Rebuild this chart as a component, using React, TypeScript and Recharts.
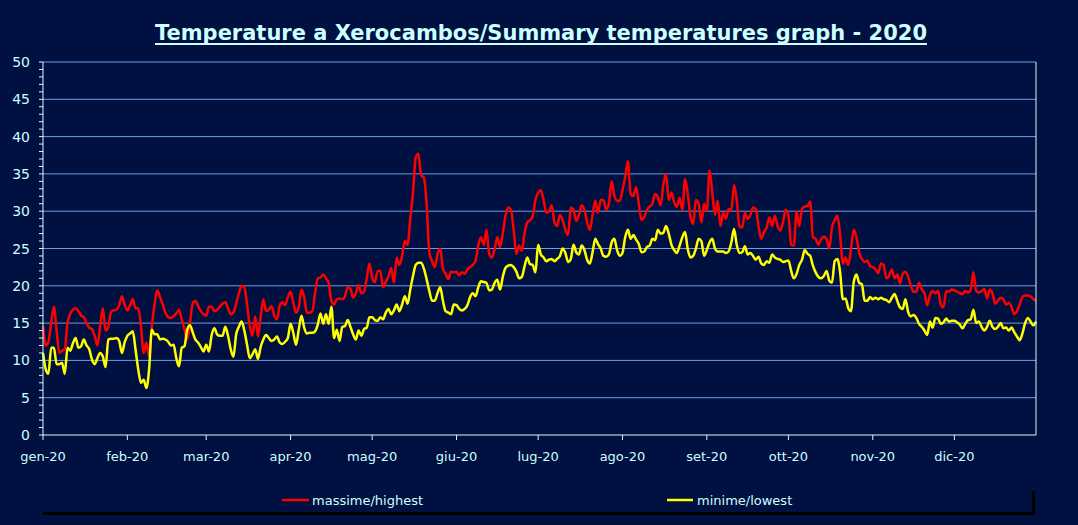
import React from "react";
import { CartesianGrid, Line, LineChart, XAxis, YAxis } from "recharts";

const BG = "#001040";
const INK = "#ccffff";
const GRID = "#6c9de6";

const monthStarts = [0, 31, 60, 91, 121, 152, 182, 213, 244, 274, 305, 335];
const monthLabels = ["gen-20", "feb-20", "mar-20", "apr-20", "mag-20", "giu-20", "lug-20", "ago-20", "set-20", "ott-20", "nov-20", "dic-20"];

// daily maxima, 1 Jan .. 31 Dec 2020
const maxTemps = [
  14.6, 12, 12.5, 15, 17.2, 14, 11, 11.3, 11.5, 15,
  16.2, 16.8, 17, 16.6, 16, 15.8, 15, 14.4, 14.2, 13.3,
  12, 14.5, 17, 14, 14.5, 16.5, 16.7, 16.8, 17.4, 18.6,
  17.5, 16.7, 17.4, 18.2, 17, 17, 14.6, 11, 12.4, 10.6,
  14.5, 17.5, 19.4, 18.5, 17.5, 16.4, 15.8, 15.7, 15.9, 16.3,
  16.8, 15.5, 14.2, 12.8, 15, 17.6, 18, 17.3, 16.6, 16.2,
  16, 17.2, 17.2, 16.6, 16.8, 17.2, 17.6, 17.8, 17, 16.2,
  16.4, 17.6, 19, 20, 19.8, 17.5, 14.6, 13.3, 15.9, 13.2,
  15.8, 18.2, 16.6, 16.8, 17.3, 16, 15.5, 17.4, 17.8, 17.4,
  18.5, 19.2, 17.8, 16.4, 17.1, 19.5, 18.5, 16.4, 16.4, 16.6,
  19, 21, 21.1, 21.5, 21, 20.4, 18, 17.5, 18.2, 18.3,
  18.2, 18.6, 19.8, 19.6, 18.4, 19, 20.1, 19, 19.2, 21,
  23, 21, 20.5, 22, 22, 19.8, 20.5, 21.3, 22.4, 20.4,
  23.8, 22.8, 24, 26, 25.5, 29, 32.5, 37.2, 37.7, 34.8,
  34.5, 31, 24.5, 23.3, 22.5, 24.2, 25, 22.3, 21.6, 20.9,
  21.9, 21.8, 21.9, 21.4, 21.8, 21.6, 22.2, 22.5, 22.8, 23.4,
  25.4, 26.5, 25.5, 27.5, 24.3, 23.8, 24.9, 26.5, 25.2, 27,
  29.4, 30.5, 30.2, 27.5, 24.3, 25.4, 24.7, 27, 28.5, 28.8,
  29.3, 31.5, 32.5, 32.8, 31.5, 29.8, 30, 30.8, 28.5, 28,
  29.5, 28.8, 27.5, 26.8, 30.5, 30.2, 28.7, 29.5, 30.8, 30.2,
  28.5, 27.5, 29.5, 31.4, 29.8, 31.5, 31.5, 30.2, 31, 34,
  32.1, 31.4, 31.4, 32.8, 34.6, 36.7, 32.3, 32, 33.2, 31,
  28.8, 29.2, 30.2, 30.6, 31, 32.3, 31.9, 30.8, 33.5, 35,
  31.5, 32.5, 31.2, 30.6, 31.8, 30.2, 34.3, 32.3, 29.3, 28.3,
  31.5, 31, 28.5, 31, 30, 35.5, 32.5, 29.5, 31.4, 28,
  29.8, 29, 30.3, 30.1, 33.5, 31.5, 28, 27.8, 29.8, 29,
  29.5, 30.5, 30.3, 28, 26.3, 27.2, 27.8, 29.2, 28, 29.4,
  28, 27.4, 28.5, 30.2, 29.4, 25.5, 25.4, 30, 28, 30.3,
  30.6, 30.7, 31.3, 26.5, 26.3, 25.5, 26.2, 26.6, 26.3, 25,
  27.8, 28.8, 29.4, 26.8, 23, 23.8, 22.8, 25, 27.5, 26.5,
  24.5, 23.6, 23.2, 23.4, 22.6, 22.5, 22.2, 21.7, 23, 22.8,
  21, 21.3, 22.2, 21, 21.5, 20.3, 21.6, 21.9, 21.2, 20,
  19.2, 19.2, 20.4, 19.5, 19, 17.4, 18.7, 19.3, 19, 19.3,
  17.5, 17.1, 19.3, 19.2, 19.5, 19.4, 19.2, 19, 18.9, 19.3,
  19.1, 19.5, 21.8, 19.3, 19.1, 19.3, 19.6, 18.3, 19.5, 19,
  17.6, 18, 18.4, 18.2, 17.5, 17.7, 17.2, 16.2, 16.6, 17.5,
  18.5, 18.7, 18.7, 18.6, 18.2, 18,
];

// daily minima
const minTemps = [
  11, 8.8, 8.2, 11.7, 11.7, 9.5, 9.5, 9.7, 8.2, 11.7,
  11.3, 12.3, 13, 11.7, 11.9, 12.8, 12, 11.5, 10.1, 9.5,
  10.3, 11, 10.5, 9.1, 12.8, 12.9, 12.9, 13, 12.6, 11,
  12.4, 13.3, 13.6, 13.9, 11.5, 8.8, 7, 7.4, 6.3, 8.8,
  14.1, 13.5, 13.5, 12.8, 12.9, 12.8, 12.5, 12, 12.1, 10.3,
  9.2, 11.7, 11.9, 14.1, 14.7, 13.8, 12.8, 12.4, 11.8, 11.2,
  12.1, 11.2, 13.4, 14.3, 13.5, 13.3, 13.3, 14.5, 13.3, 11.5,
  10.5, 13.5, 14.5, 15.2, 14, 12.1, 10.3, 10.8, 11.5, 10.2,
  11.8, 12.8, 13.4, 13, 12.6, 12.8, 13.2, 12.4, 12.2, 12.5,
  13, 14.9, 13.7, 12.1, 14.1, 16, 14.4, 13.6, 13.7, 13.7,
  13.9, 14.8, 16.3, 14.9, 16.2, 14.9, 17.2, 13, 14.1, 12.6,
  14.5, 14.6, 15.4, 14.5, 13.5, 12.8, 14, 13.3, 14.2, 14.4,
  15.8, 15.8, 15.4, 15.3, 15.8, 15.5, 16.4, 16.9, 16.2, 16.7,
  17.5, 16.6, 17.5, 18.6, 17.6, 19.5, 21.3, 22.8, 23.1, 23.1,
  22.3, 20.9, 19.3, 18, 18, 19, 19.8, 18, 16.6, 16.4,
  16.2, 17.5, 17.4, 16.9, 16.7, 16.9, 17.4, 18.5, 19, 18.6,
  19.8, 20.6, 20.5, 20.4, 19.4, 19.5, 20.4, 20.8, 19.5, 21.2,
  22.4, 22.7, 22.8, 22.5, 21.9, 21, 21.2, 22.6, 23.8, 22.9,
  22.8, 21.8, 25.5, 24.2, 23.8, 23.3, 23.5, 23.6, 23.3, 23.6,
  24, 25, 24.4, 23.2, 23.6, 25.5, 24.5, 24.2, 25.4, 24.8,
  23.5, 23, 24.5, 26.3, 25.6, 25, 24, 23.9, 24.2, 25.8,
  26.3, 24.8, 24, 24.4, 26.5, 27.5, 26.3, 26.8, 26.2, 25.6,
  24.5, 24.6, 25.2, 25.4, 26.3, 26.1, 27.5, 27, 27.1, 28,
  27, 25.5, 24.8, 24.4, 25.4, 26.5, 27.2, 24.9, 23.8, 24,
  25, 26.3, 26, 24, 24.8, 25.8, 26.3, 25, 24.6, 24.6,
  24.6, 24.4, 24.6, 25.8, 27.6, 25.5, 24.4, 24.5, 25.3, 24.2,
  24.4, 24, 23.5, 23.9, 23, 22.8, 23.3, 23.1, 24.2, 23.8,
  23.6, 23.5, 23.2, 23.3, 23.4, 22, 21, 21.6, 22.8, 23.5,
  24.8, 24.3, 24, 22.7, 21.8, 21.2, 21, 21.3, 22, 20.7,
  20.4, 23.3, 23.6, 21.8, 18.2, 18.3, 17, 16.6, 20.5, 21.5,
  20.4, 20.2, 18, 18, 18.5, 18.2, 18.4, 18.2, 18.4, 18.2,
  18.1, 17.8, 18.4, 18.9, 18, 17.1, 16.9, 18.2, 16.5, 15.9,
  16.1, 15.7, 14.9, 14.5, 14, 13.4, 15.2, 14.4, 15.7, 15.6,
  14.9, 15.1, 15.6, 15.2, 15.3, 15.3, 15.1, 14.8, 14.3, 14.9,
  15.4, 15.5, 16.8, 15, 15.2, 14.5, 14, 14.5, 15.3, 14.5,
  14.2, 14.5, 15, 14.3, 14.4, 14, 14.4, 13.8, 13.2, 12.7,
  13.6, 15, 15.7, 15.2, 14.7, 15.2,
];

const yTicks = Array.from({ length: 51 }, (_, i) => i);
const gridValues = [5, 10, 15, 20, 25, 30, 35, 40, 45, 50];

const data = maxTemps.map((v, i) => ({ day: i, max: v, min: minTemps[i] }));

const FONT = "'DejaVu Sans', sans-serif";

// only label every 5 degrees; the minor ticks stay unlabeled
function YTick(props: any) {
  const { x, y, payload, textAnchor } = props;
  if (payload.value % 5 !== 0) return <g />;
  return (
    <text x={x} y={y} dy={5} textAnchor={textAnchor} fill={INK} fontSize={14} fontFamily={FONT}>
      {payload.value}
    </text>
  );
}

export default function App() {
  return (
    <div style={{ position: "absolute", left: 0, top: 0, width: 1078, height: 525, background: BG }}>
      <LineChart width={1078} height={525} data={data} margin={{ top: 62, right: 0, bottom: 60, left: 0 }}>
        <CartesianGrid vertical={false} horizontalValues={gridValues} stroke={GRID} strokeWidth={1} yAxisId="left" />
        <XAxis
          dataKey="day"
          type="number"
          domain={[0, 365]}
          ticks={monthStarts}
          interval={0}
          tickFormatter={(v) => monthLabels[monthStarts.indexOf(v)] ?? ""}
          stroke={INK}
          tickSize={5}
          tickMargin={12}
          height={30}
          tick={{ fill: INK, fontSize: 13, fontFamily: FONT }}
        />
        <YAxis
          yAxisId="left"
          domain={[0, 50]}
          ticks={yTicks}
          interval={0}
          width={43}
          stroke={INK}
          tickSize={4}
          tickMargin={9}
          tick={YTick}
        />
        <YAxis
          yAxisId="right"
          orientation="right"
          domain={[0, 50]}
          ticks={yTicks}
          interval={0}
          width={42}
          stroke={INK}
          tickSize={4}
          tickMargin={10}
          tick={YTick}
        />
        <Line yAxisId="left" type="monotone" dataKey="max" stroke="#ff0000" strokeWidth={2.5} dot={false} isAnimationActive={false} />
        <Line yAxisId="left" type="monotone" dataKey="min" stroke="#ffff00" strokeWidth={2.5} dot={false} isAnimationActive={false} />
      </LineChart>
      <svg width={1078} height={525} style={{ position: "absolute", left: 0, top: 0, pointerEvents: "none" }}>
        <text
          x={541}
          y={40}
          textAnchor="middle"
          fill={INK}
          fontSize={22}
          fontWeight="bold"
          fontFamily={FONT}
          textLength={772}
          lengthAdjust="spacingAndGlyphs"
        >
          Temperature a Xerocambos/Summary temperatures graph - 2020
        </text>
        <line x1={155} x2={927} y1={44} y2={44} stroke={INK} strokeWidth={2} />
        <rect x={43} y={491} width={992} height={24} fill="#000000" />
        <rect x={40} y={488} width={992} height={24} fill={BG} />
        <line x1={282} x2={309} y1={500} y2={500} stroke="#ff0000" strokeWidth={2.5} />
        <text x={312} y={505} fill={INK} fontSize={13} fontFamily={FONT}>massime/highest</text>
        <line x1={667} x2={693} y1={500} y2={500} stroke="#ffff00" strokeWidth={2.5} />
        <text x={697} y={505} fill={INK} fontSize={13} fontFamily={FONT}>minime/lowest</text>
      </svg>
    </div>
  );
}
